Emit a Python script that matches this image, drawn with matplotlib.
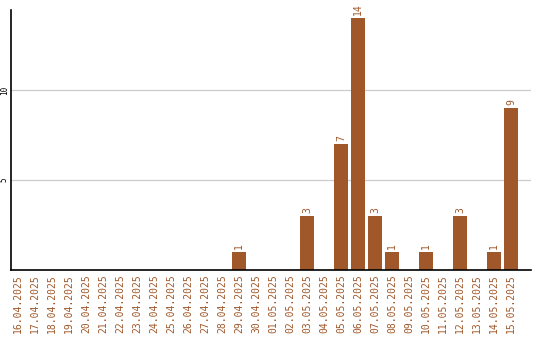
import matplotlib
matplotlib.use("Agg")
import matplotlib.pyplot as plt

# daily counts, 16.04.2025 .. 15.05.2025
dates = [
    "16.04.2025", "17.04.2025", "18.04.2025", "19.04.2025", "20.04.2025",
    "21.04.2025", "22.04.2025", "23.04.2025", "24.04.2025", "25.04.2025",
    "26.04.2025", "27.04.2025", "28.04.2025", "29.04.2025", "30.04.2025",
    "01.05.2025", "02.05.2025", "03.05.2025", "04.05.2025", "05.05.2025",
    "06.05.2025", "07.05.2025", "08.05.2025", "09.05.2025", "10.05.2025",
    "11.05.2025", "12.05.2025", "13.05.2025", "14.05.2025", "15.05.2025",
]
counts = [0, 0, 0, 0, 0, 0, 0, 0, 0, 0, 0, 0, 0, 1, 0,
          0, 0, 3, 0, 7, 14, 3, 1, 0, 1, 0, 3, 0, 1, 9]
y_ticks = [5, 10]

COLOR = "#a0582a"
plt.rcParams["font.family"] = "DejaVu Sans Mono"

fig = plt.figure(figsize=(5.4, 3.4), dpi=100)
ax = fig.add_axes([11 / 540, 70 / 340, 520 / 540, 260 / 340])

x = range(len(dates))
ax.bar(x, counts, width=0.82, color=COLOR, zorder=2)

for i, v in enumerate(counts):
    if v > 0:
        ax.text(i, v + 0.15, str(v), rotation=90, ha="center", va="bottom",
                color=COLOR, fontsize=7)

ax.set_xlim(-0.41, len(dates) - 1 + 1.18)
ax.set_ylim(0, 14.45)
ax.set_xticks(list(x))
ax.set_xticklabels(dates, rotation=90, color=COLOR, fontsize=7)
ax.set_yticks(y_ticks)
ax.set_yticklabels([str(t) for t in y_ticks], rotation=90, fontsize=5.5, va="center")
ax.tick_params(axis="x", length=0, pad=3)
ax.tick_params(axis="y", length=0, pad=1.5)
ax.yaxis.grid(True, color="#cccccc", linewidth=0.9)
ax.set_axisbelow(True)

for side in ("top", "right"):
    ax.spines[side].set_visible(False)
for side in ("left", "bottom"):
    ax.spines[side].set_linewidth(1.2)

fig.savefig("out.png", dpi=100)
